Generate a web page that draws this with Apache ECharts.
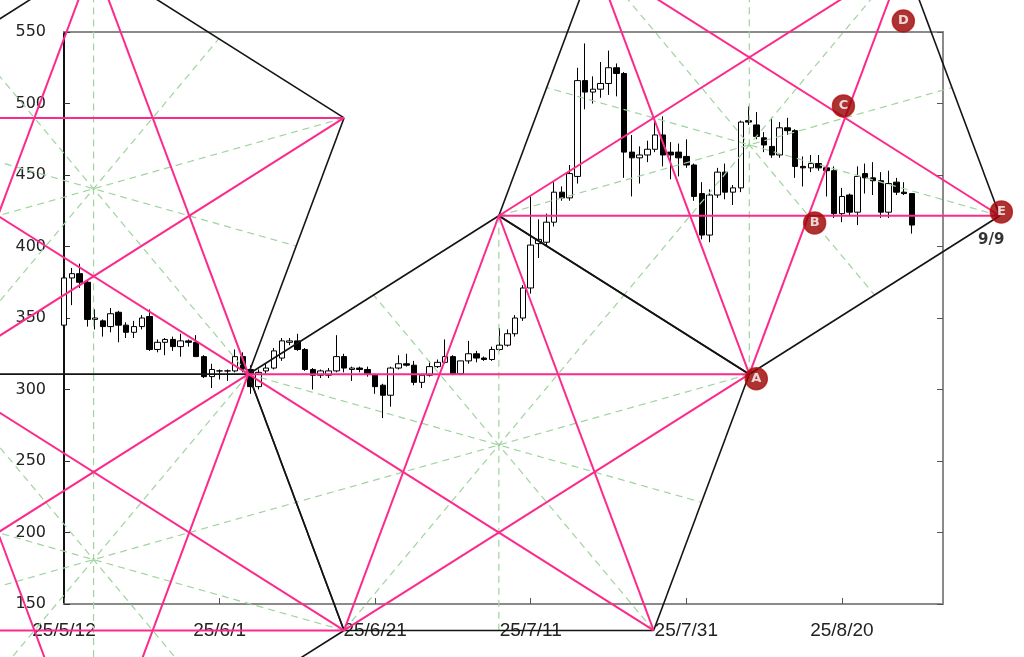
<!DOCTYPE html>
<html><head><meta charset="utf-8">
<script src="https://cdn.jsdelivr.net/npm/echarts/dist/echarts.min.js"></script>
<style>html,body{margin:0;padding:0;background:#fff}#c{width:1024px;height:657px}</style>
</head><body><div id="c"></div>
<script>
// ---- data ----
const startDate = '2025-05-12';
const xTickDates = ['2025-05-12','2025-06-01','2025-06-21','2025-07-11','2025-07-31','2025-08-20'];
const yTicks = [150, 200, 250, 300, 350, 400, 450, 500, 550];
const dates = [
 '2025-05-12','2025-05-13','2025-05-14','2025-05-15','2025-05-16','2025-05-17','2025-05-18','2025-05-19','2025-05-20','2025-05-21',
 '2025-05-22','2025-05-23','2025-05-24','2025-05-25','2025-05-26','2025-05-27','2025-05-28','2025-05-29','2025-05-30','2025-05-31',
 '2025-06-01','2025-06-02','2025-06-03','2025-06-04','2025-06-05','2025-06-06','2025-06-07','2025-06-08','2025-06-09','2025-06-10',
 '2025-06-11','2025-06-12','2025-06-13','2025-06-14','2025-06-15','2025-06-16','2025-06-17','2025-06-18','2025-06-19','2025-06-20',
 '2025-06-21','2025-06-22','2025-06-23','2025-06-24','2025-06-25','2025-06-26','2025-06-27','2025-06-28','2025-06-29','2025-06-30',
 '2025-07-01','2025-07-02','2025-07-03','2025-07-04','2025-07-05','2025-07-06','2025-07-07','2025-07-08','2025-07-09','2025-07-10',
 '2025-07-11','2025-07-12','2025-07-13','2025-07-14','2025-07-15','2025-07-16','2025-07-17','2025-07-18','2025-07-19','2025-07-20',
 '2025-07-21','2025-07-22','2025-07-23','2025-07-24','2025-07-25','2025-07-26','2025-07-27','2025-07-28','2025-07-29','2025-07-30',
 '2025-07-31','2025-08-01','2025-08-02','2025-08-03','2025-08-04','2025-08-05','2025-08-06','2025-08-07','2025-08-08','2025-08-09',
 '2025-08-10','2025-08-11','2025-08-12','2025-08-13','2025-08-14','2025-08-15','2025-08-16','2025-08-17','2025-08-18','2025-08-19',
 '2025-08-20','2025-08-21','2025-08-22','2025-08-23','2025-08-24','2025-08-25','2025-08-26','2025-08-27','2025-08-28','2025-08-29'
];
const open = [
 345,378,381,375,349,348,344,354,345,340, 344,351,328,333,335,330,334,333,323,309,
 313,313,313,323,314,302,313,315,322,333, 334,328,314,310,310,313,323,314,315,314,
 310,303,296,315,318,317,305,310,316,319, 323,311,320,325,322,321,328,331,339,350,
 371,402,403,417,438,434,449,516,508,510, 514,525,521,466,462,464,468,478,466,466,
 463,457,437,408,436,452,438,441,488,485, 476,470,464,483,481,456,455,458,455,453,
 423,436,424,451,448,446,424,445,438,437
];
const high = [
 381,385,388,376,356,349,357,355,347,348, 352,356,335,336,337,339,335,338,324,318,
 314,314,328,326,317,314,318,329,336,336, 339,329,315,314,315,338,325,316,316,316,
 311,304,316,324,325,320,311,320,321,335, 324,320,334,327,323,330,343,342,352,373,
 435,419,423,445,442,457,525,542,519,529, 537,528,522,478,470,474,488,491,473,472,
 475,458,445,440,455,458,443,488,498,494, 480,490,487,490,482,463,464,464,457,456,
 441,437,456,458,459,452,453,448,445,437
];
const low = [
 344,359,371,344,342,337,340,333,336,336, 342,327,326,324,327,323,330,323,308,301,
 307,306,312,312,297,300,311,314,320,331, 327,313,300,308,308,312,312,306,312,309,
 297,280,288,314,316,303,301,309,315,318, 310,310,318,319,320,320,327,330,337,348,
 367,392,400,414,432,432,444,496,500,504, 506,505,448,435,444,459,466,456,447,449,
 455,432,405,403,434,433,429,438,485,475, 466,462,462,478,448,442,452,453,435,420,
 417,422,415,437,436,420,420,436,436,409
];
const close = [
 378,381,375,349,350,344,353,345,340,344, 350,328,333,335,330,334,333,323,309,314,
 313,313,323,314,302,312,315,327,334,334, 328,314,310,313,313,323,315,315,314,311,
 302,296,315,318,317,305,310,316,319,323, 311,320,325,322,321,328,331,339,350,371,
 401,405,417,438,434,451,516,508,510,514, 525,521,466,462,464,468,478,464,464,462,
 457,435,408,436,452,438,441,487,487,477, 471,464,483,481,456,455,458,455,453,423,
 435,424,449,448,446,424,444,438,437,415
];
// geometric lattice vertices (x in days from startDate, y in price)
const ptName  = ['a',   'b',   'A',   'c',   'd',   'e',   'f',   'g',   'h',   'i',  'j',   'E',   'k',   'l'];
const ptDay   = [23.7,  55.9,  88.1,  75.8,  36.0,  3.8,   36.0,  -16.1, -28.4, 3.8,  -28.4, 120.3, 108.0, 68.2];
const ptPrice = [310.7, 421.5, 310.7, 131.5, 131.5, 600.7, 489.9, 310.7, 489.9, 20.7, 131.5, 421.5, 600.7, 600.7];
// pentagons as vertex names in cyclic order
const pentA = ['b','A','c','d','a'];
const pentB = ['e','f','a','g','h'];
const pentC = ['i','d','a','g','j'];
const pentD = ['A','E','k','l','b'];
// point labels
const markName  = ['A', 'B', 'C', 'D', 'E'];
const markDay   = [89.0, 96.5, 100.2, 107.9, 120.5];
const markPrice = [307.5, 416.5, 498.3, 557.7, 424.2];
const noteText  = ['9/9'];
const noteDay   = [119.2];
const notePrice = [404.6];

// ---- build ----
const DAY = 86400000;
const t0 = Date.parse(startDate);
const dayOf = s => Math.round((Date.parse(s) - t0) / DAY);
const xMin = dayOf(xTickDates[0]);
const xInterval = dayOf(xTickDates[1]) - dayOf(xTickDates[0]);
const xMax = xMin + 113;
const fmtDate = v => {
  if (((v - xMin) % xInterval) !== 0) return '';
  const dt = new Date(t0 + v * DAY);
  return String(dt.getUTCFullYear()).slice(2) + '/' + (dt.getUTCMonth() + 1) + '/' + dt.getUTCDate();
};
const candles = dates.map((d, i) => [dayOf(d), open[i], close[i], low[i], high[i]]);

const P = {};
ptName.forEach((n, i) => { P[n] = [ptDay[i], ptPrice[i]]; });
const mid = (p, q) => [(p[0] + q[0]) / 2, (p[1] + q[1]) / 2];
const segs = { black: [], pink: [], green: [] };
[pentA, pentB, pentC, pentD].forEach(pg => {
  for (let k = 0; k < 5; k++) {
    const v0 = P[pg[k]], v1 = P[pg[(k + 1) % 5]], v2 = P[pg[(k + 2) % 5]], v3 = P[pg[(k + 3) % 5]];
    segs.black.push([v0, v1]);
    segs.pink.push([v0, v2]);
    segs.green.push([v0, mid(v2, v3)]);
  }
});
const styles = {
  green: { color: '#9fd49f', width: 1.2, dash: [7, 5], z: 3 },
  black: { color: '#141414', width: 1.6, dash: null, z: 4 },
  pink:  { color: '#fc2a8b', width: 2, dash: null, z: 5 }
};
const lineSeries = ['green', 'black', 'pink'].map(key => ({
  type: 'custom', coordinateSystem: 'cartesian2d', clip: false, silent: true, animation: false,
  z: styles[key].z,
  data: segs[key].map(s => [s[0][0], s[0][1], s[1][0], s[1][1]]),
  encode: { x: [0, 2], y: [1, 3] },
  renderItem: (params, api) => {
    const p1 = api.coord([api.value(0), api.value(1)]);
    const p2 = api.coord([api.value(2), api.value(3)]);
    return {
      type: 'line',
      shape: { x1: p1[0], y1: p1[1], x2: p2[0], y2: p2[1] },
      style: { stroke: styles[key].color, lineWidth: styles[key].width, lineDash: styles[key].dash, fill: null }
    };
  }
}));

const chart = echarts.init(document.getElementById('c'), null, { renderer: 'canvas' });
chart.setOption({
  animation: false,
  backgroundColor: '#fff',
  grid: { left: 64, right: 81, top: 32, bottom: 53, containLabel: false },
  xAxis: [{
    type: 'value', min: xMin, max: xMax, interval: xInterval, position: 'bottom',
    axisLine: { lineStyle: { color: '#8a8a8a', width: 2 } },
    axisTick: { inside: true, length: 6, lineStyle: { color: '#555', width: 1 } },
    axisLabel: { formatter: fmtDate, margin: 17, fontFamily: 'Liberation Sans', fontSize: 19, color: '#222', showMaxLabel: false },
    splitLine: { show: false }
  }, {
    type: 'value', min: xMin, max: xMax, position: 'top',
    axisLine: { show: true, onZero: false, lineStyle: { color: '#8a8a8a', width: 2 } },
    axisTick: { show: false }, axisLabel: { show: false }, splitLine: { show: false }
  }],
  yAxis: [{
    type: 'value', min: yTicks[0], max: yTicks[yTicks.length - 1], interval: yTicks[1] - yTicks[0], position: 'left',
    axisLine: { show: true, onZero: false, lineStyle: { color: '#111', width: 2 } },
    axisTick: { show: true, inside: true, length: 6, lineStyle: { color: '#333', width: 1 } },
    axisLabel: { margin: 18, fontFamily: 'DejaVu Sans', fontSize: 16, color: '#222' },
    splitLine: { show: false }
  }, {
    type: 'value', min: yTicks[0], max: yTicks[yTicks.length - 1], interval: yTicks[1] - yTicks[0], position: 'right',
    axisLine: { show: true, onZero: false, lineStyle: { color: '#8a8a8a', width: 2 } },
    axisTick: { show: true, inside: true, length: 6, lineStyle: { color: '#555', width: 1 } },
    axisLabel: { show: false }, splitLine: { show: false }
  }],
  series: [{
    type: 'candlestick', data: candles, barWidth: 6, z: 2, clip: false, silent: true,
    encode: { x: 0, y: [1, 2, 3, 4] },
    itemStyle: { color: '#ffffff', color0: '#000000', borderColor: '#000000', borderColor0: '#000000', borderWidth: 1 }
  }].concat(lineSeries).concat([{
    type: 'scatter', clip: false, silent: true, z: 10,
    data: markName.map((n, i) => ({ value: [markDay[i], markPrice[i]], name: n })),
    symbol: 'circle', symbolSize: 22,
    itemStyle: { color: '#980000', borderColor: '#b51515', borderWidth: 1.5 },
    label: { show: true, position: 'inside', formatter: p => p.name, color: '#fff', fontWeight: 'bold', fontFamily: 'DejaVu Sans', fontSize: 13 }
  }, {
    type: 'scatter', clip: false, silent: true, z: 10,
    data: noteText.map((n, i) => ({ value: [noteDay[i], notePrice[i]], name: n })),
    symbolSize: 0,
    label: { show: true, position: 'inside', formatter: p => p.name, color: '#000', fontWeight: 'bold', fontFamily: 'DejaVu Sans', fontSize: 15 }
  }])
});
</script></body></html>
